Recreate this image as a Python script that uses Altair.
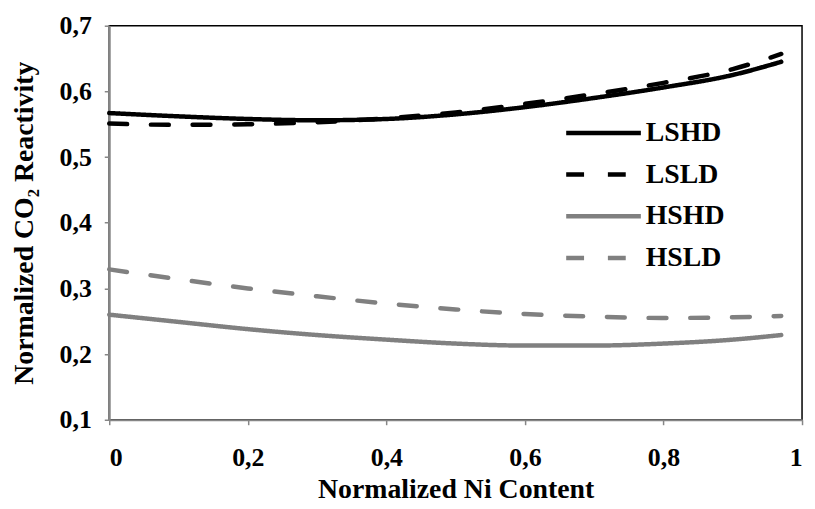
import altair as alt
import pandas as pd

x_vals = [0, 0.1, 0.2, 0.3, 0.4, 0.5, 0.6, 0.7, 0.8, 0.9, 0.97]
lshd = [0.567, 0.562, 0.558, 0.556, 0.558, 0.565, 0.576, 0.590, 0.606, 0.625, 0.645]
lsld = [0.551, 0.549, 0.550, 0.553, 0.559, 0.568, 0.581, 0.596, 0.613, 0.634, 0.657]
hshd = [0.260, 0.249, 0.238, 0.229, 0.222, 0.216, 0.213, 0.213, 0.216, 0.222, 0.229]
hsld = [0.329, 0.314, 0.300, 0.288, 0.277, 0.268, 0.261, 0.257, 0.255, 0.256, 0.258]

series_names = ["LSHD", "LSLD", "HSHD", "HSLD"]
series_values = [lshd, lsld, hshd, hsld]
colors = ["#000000", "#000000", "#808080", "#808080"]
dashes = [[1, 0], [18, 24], [1, 0], [18, 24]]

x_ticks = [0, 0.2, 0.4, 0.6, 0.8, 1.0]
y_ticks = [0.1, 0.2, 0.3, 0.4, 0.5, 0.6, 0.7]

rows = []
for name, vals in zip(series_names, series_values):
    for xv, yv in zip(x_vals, vals):
        rows.append({"series": name, "x": xv, "y": yv})
df = pd.DataFrame(rows)

FONT = "Liberation Serif"

legend = alt.Legend(
    title=None,
    orient="none",
    legendX=470,
    legendY=80,
    symbolType="M-1.475,0H1.475",
    symbolSize=2601,
    symbolStrokeWidth=4.5,
    symbolFillColor="transparent",
    labelFont=FONT,
    labelFontSize=28,
    labelFontWeight="bold",
    labelColor="#000000",
    labelOffset=14.5,
    rowPadding=0,
    padding=0,
)

chart = (
    alt.Chart(df)
    .mark_line(strokeWidth=4.5, strokeCap="round", interpolate="monotone")
    .encode(
        x=alt.X(
            "x:Q",
            scale=alt.Scale(domain=[0, 1], nice=False, zero=False),
            axis=alt.Axis(
                values=x_ticks,
                labelExpr="datum.value == 0 ? '0' : datum.value == 1 ? '1' : replace(format(datum.value, '.1f'), '.', ',')",
                title="Normalized Ni Content",
                titleFont=FONT,
                titleFontSize=28,
                titleFontWeight="bold",
                titleColor="#000000",
                titleBaseline="alphabetic",
                titleY=78,
                labelFont=FONT,
                labelFontSize=26,
                labelFontWeight="bold",
                labelColor="#000000",
                labelPadding=20,
                tickSize=5,
                tickColor="#868686",
                tickWidth=1.5,
                domainColor="#868686",
                domainWidth=2,
                grid=False,
            ),
        ),
        y=alt.Y(
            "y:Q",
            scale=alt.Scale(domain=[0.1, 0.7], nice=False, zero=False),
            axis=alt.Axis(
                values=y_ticks,
                labelExpr="replace(format(datum.value, '.1f'), '.', ',')",
                title="Normalized CO\u2082 Reactivity",
                titleFont=FONT,
                titleFontSize=28,
                titleFontWeight="bold",
                titleColor="#000000",
                titleBaseline="middle",
                titleX=-85,
                labelFont=FONT,
                labelFontSize=26,
                labelFontWeight="bold",
                labelColor="#000000",
                labelPadding=13,
                tickSize=5,
                tickColor="#868686",
                tickWidth=1.5,
                domainColor="#868686",
                domainWidth=2,
                grid=False,
            ),
        ),
        color=alt.Color(
            "series:N",
            scale=alt.Scale(domain=series_names, range=colors),
            legend=legend,
        ),
        strokeDash=alt.StrokeDash(
            "series:N",
            scale=alt.Scale(domain=series_names, range=dashes),
            legend=legend,
        ),
    )
    .properties(
        width=698,
        height=397,
        autosize=alt.AutoSizeParams(type="none"),
        padding={"left": 102, "top": 16, "right": 5, "bottom": 80},
    )
    .configure_view(stroke="#000000", strokeWidth=1.5)
)

chart.save("out.html", embed_options={"renderer": "svg", "actions": False})
